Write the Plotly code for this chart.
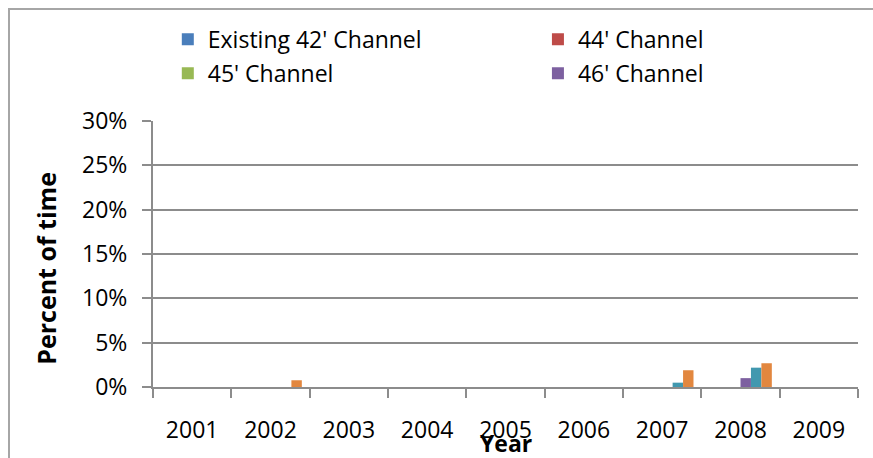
import plotly.graph_objects as go

# Share of time (as a fraction) that each channel depth condition occurred, by year
years = ["2001", "2002", "2003", "2004", "2005", "2006", "2007", "2008", "2009"]
ch42 = [0, 0, 0, 0, 0, 0, 0, 0, 0]
ch44 = [0, 0, 0, 0, 0, 0, 0, 0, 0]
ch45 = [0, 0, 0, 0, 0, 0, 0, 0, 0]
ch46 = [0, 0, 0, 0, 0, 0, 0, 0.010, 0]
ch47 = [0, 0, 0, 0, 0, 0, 0.0049, 0.0218, 0]
ch48 = [0, 0.0076, 0, 0, 0, 0, 0.0189, 0.0268, 0]

series_names = ["Existing 42' Channel", "44' Channel", "45' Channel", "46' Channel",
                "47' Channel", "48' Channel"]
series_values = [ch42, ch44, ch45, ch46, ch47, ch48]
colors = ["#4A7EBB", "#BE4B48", "#98B954", "#7D60A0", "#4198AF", "#E2873F"]
# first column of the key holds 42'/45', second column 44'/46'
legend_ids = ["legend", "legend2", "legend", "legend2", None, None]

FONT = "Open Sans"
GRID = "#8C8C8C"

fig = go.Figure()
for name, vals, col, lg in zip(series_names, series_values, colors, legend_ids):
    fig.add_trace(go.Bar(
        x=years, y=vals, name=name,
        marker=dict(color=col, line=dict(width=0)),
        showlegend=lg is not None,
        legend=lg if lg else "legend",
        legendgroup=name,
    ))

legend_common = dict(
    orientation="v", xanchor="left", yanchor="top",
    bgcolor="rgba(0,0,0,0)", borderwidth=0,
    font=dict(family=FONT, size=23, color="#000000"),
    tracegroupgap=1, itemclick=False, itemdoubleclick=False,
)

fig.update_layout(
    width=873, height=458,
    margin=dict(l=153, r=15, t=121, b=71),
    paper_bgcolor="#FFFFFF", plot_bgcolor="#FFFFFF",
    barmode="group", bargap=0.2, bargroupgap=0,
    font=dict(family=FONT, color="#000000"),
    legend=dict(x=0.021, y=1.388, **legend_common),
    legend2=dict(x=0.546, y=1.388, **legend_common),
    xaxis=dict(
        type="category", categoryorder="array", categoryarray=years,
        showline=True, linecolor=GRID, linewidth=2,
        ticks="outside", tickson="boundaries", ticklen=9, tickwidth=2, tickcolor=GRID,
        tickfont=dict(family=FONT, size=23, color="#000000"),
        ticklabelstandoff=21,
        showgrid=False, zeroline=False,
    ),
    yaxis=dict(
        range=[0, 0.30], dtick=0.05, tickformat=".0%",
        showline=True, linecolor=GRID, linewidth=2,
        ticks="outside", ticklen=9, tickwidth=2, tickcolor=GRID,
        tickfont=dict(family=FONT, size=23, color="#000000"),
        ticklabelstandoff=10,
        showgrid=True, gridcolor=GRID, gridwidth=2,
        zeroline=False,
    ),
    annotations=[
        dict(
            text="<b>Year</b>", xref="paper", yref="paper",
            x=0.5, y=-0.212, xanchor="center", yanchor="middle", showarrow=False,
            font=dict(family=FONT, size=23, color="#000000"),
        ),
        dict(
            text="<b>Percent of time</b>", xref="paper", yref="paper",
            x=-0.153, y=0.445, xanchor="center", yanchor="middle", showarrow=False,
            textangle=-90,
            font=dict(family=FONT, size=25, color="#000000"),
        ),
    ],
    shapes=[dict(
        type="rect", xref="paper", yref="paper",
        x0=(9 - 153) / 705, x1=1.2, y0=-0.5, y1=1 + (121 - 9) / 266,
        line=dict(color="#A6A6A6", width=2), fillcolor="rgba(0,0,0,0)", layer="below",
    )],
)

fig.write_html("out.html")
